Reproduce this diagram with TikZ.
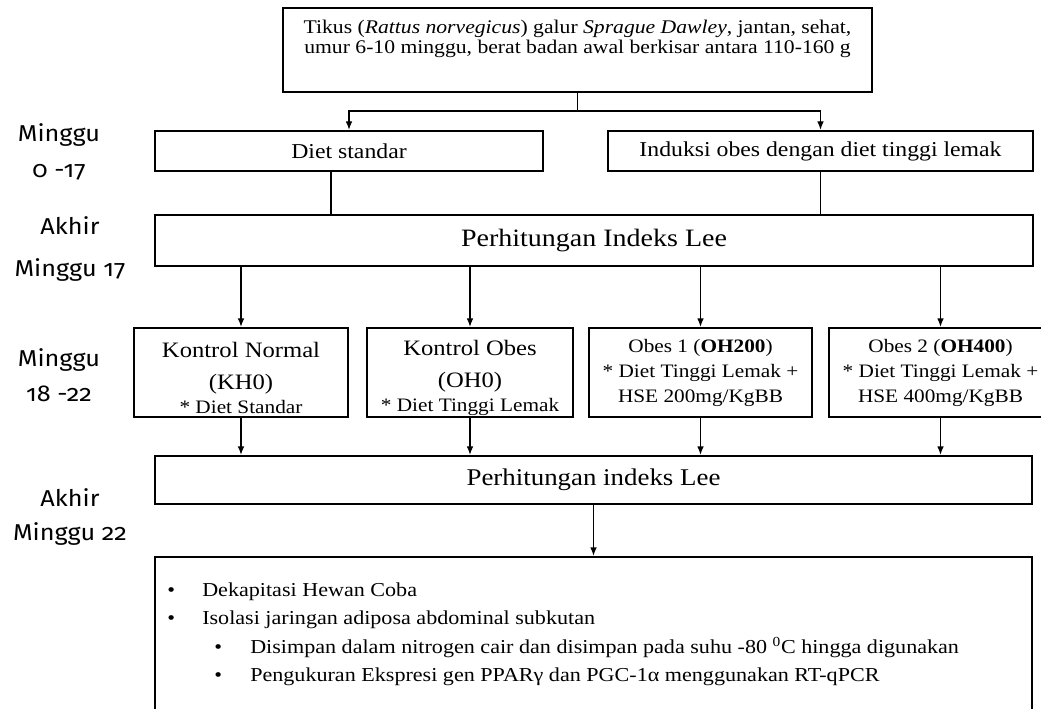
\documentclass[tikz,border=0pt]{standalone}
\usepackage{fontspec}
\setmainfont{Liberation Serif}[FakeStretch=1.12]
\setsansfont{Fira Sans}[Numbers=OldStyle, FakeStretch=1.1]
\usetikzlibrary{arrows.meta,fit}

\begin{document}
\begin{tikzpicture}[x=0.75pt,y=0.75pt,
  box/.style={draw=black, line width=1.5pt, inner sep=0pt, align=center},
  conn/.style={draw=black, line width=1pt},
  arr/.style={conn, -{Latex[length=6.5pt,width=5pt]}},
  weeklabel/.style={font=\sffamily\fontsize{17.2}{25}\selectfont, align=center},
  item/.style={anchor=west, font=\fontsize{14.8}{16}\selectfont}]
\tikzstyle{every node}+=[inner sep=0pt]
\useasboundingbox (0,0) rectangle (1041,-709);
\clip (0,0) rectangle (1041,-709);
\node (tikus) [box, fit={(283,-8) (872,-92)}] {};
\node (tikusteks) [align=center, font=\fontsize{14.5}{14.5}\selectfont] at (577.5,-39) {Tikus (\textit{Rattus norvegicus}) galur \textit{Sprague Dawley}, jantan, sehat,\\umur 6-10 minggu, berat badan awal berkisar antara 110-160 g};
\node (diet) [box, minimum width=291pt, minimum height=30pt, font=\fontsize{15.9}{18}\selectfont] at (349,-151) {Diet standar};
\node (induksi) [box, minimum width=318.75pt, minimum height=30pt, font=\fontsize{15.9}{18}\selectfont] at (820.5,-151) {Induksi obes dengan diet tinggi lemak};
\node (lee1) [box, minimum width=658.5pt, minimum height=38.25pt, font=\fontsize{18.75}{20}\selectfont] at (594,-240.5) {Perhitungan Indeks Lee};
\node (kh0) [box, minimum width=160.5pt, minimum height=66.75pt, font=\fontsize{16.5}{18}\selectfont] at (241,-372.5) {\rule{0pt}{19pt}Kontrol Normal\\[6pt](KH0)\\{\fontsize{14.25}{15}\selectfont * Diet Standar}};
\node (oh0) [box, minimum width=154.5pt, minimum height=66.75pt, font=\fontsize{16.5}{18}\selectfont] at (470,-372.5) {\rule{0pt}{19pt}Kontrol Obes\\[6pt](OH0)\\{\fontsize{14.25}{15}\selectfont * Diet Tinggi Lemak}};
\node (oh200) [box, minimum width=167.25pt, minimum height=66.75pt, font=\fontsize{14.25}{18.75}\selectfont] at (700.5,-372.5) {Obes 1 (\textbf{OH200})\\{*} Diet Tinggi Lemak +\\HSE 200mg/KgBB};
\node (oh400) [box, minimum width=167.25pt, minimum height=66.75pt, font=\fontsize{14.25}{18.75}\selectfont] at (940.5,-372.5) {Obes 2 (\textbf{OH400})\\{*} Diet Tinggi Lemak +\\HSE 400mg/KgBB};
\node (lee2) [box, minimum width=657.75pt, minimum height=36pt, font=\fontsize{18}{20}\selectfont] at (593.5,-480) {Perhitungan indeks Lee};
\node (analisis) [box, fit={(155,-557) (1032,-720)}] {};
\node (item1) [item] at (167,-592) {\makebox[26.25pt][l]{\textbullet}Dekapitasi Hewan Coba};
\node (item2) [item] at (167,-620) {\makebox[26.25pt][l]{\textbullet}Isolasi jaringan adiposa abdominal subkutan};
\node (item3) [item] at (214,-648) {\makebox[27pt][l]{\textbullet}Disimpan dalam nitrogen cair dan disimpan pada suhu -80 \textsuperscript{0}C hingga digunakan};
\node (item4) [item] at (214,-677) {\makebox[27pt][l]{\textbullet}Pengukuran Ekspresi gen PPARγ dan PGC-1α menggunakan RT-qPCR};
\node (minggu1) [weeklabel] at (59,-152) {Minggu\\[1.5pt]0 -17};
\node (akhir1) [weeklabel] at (70,-249) {Akhir\\[6.5pt]Minggu 17};
\node (minggu2) [weeklabel] at (59,-375) {Minggu\\[1.5pt]18 -22};
\node (akhir2) [weeklabel] at (70,-517) {Akhir\\Minggu 22};
\coordinate (split) at (577.5,-111);
\draw [conn] (tikus.south) -- (split);
\draw [arr] (split) -| (diet.north);
\draw [arr] (split) -| (induksi.north);
\coordinate (dietout) at ([xshift=-13.5pt]diet.south);
\draw [conn] (dietout) -- (dietout |- lee1.north);
\draw [conn] (induksi.south) -- (induksi.south |- lee1.north);
\draw [arr] (kh0.north |- lee1.south) -- (kh0.north);
\draw [arr] (oh0.north |- lee1.south) -- (oh0.north);
\draw [arr] (oh200.north |- lee1.south) -- (oh200.north);
\draw [arr] (oh400.north |- lee1.south) -- (oh400.north);
\draw [arr] (kh0.south) -- (kh0.south |- lee2.north);
\draw [arr] (oh0.south) -- (oh0.south |- lee2.north);
\draw [arr] (oh200.south) -- (oh200.south |- lee2.north);
\draw [arr] (oh400.south) -- (oh400.south |- lee2.north);
\draw [arr] (lee2.south) -- (analisis.north);
\end{tikzpicture}
\end{document}
